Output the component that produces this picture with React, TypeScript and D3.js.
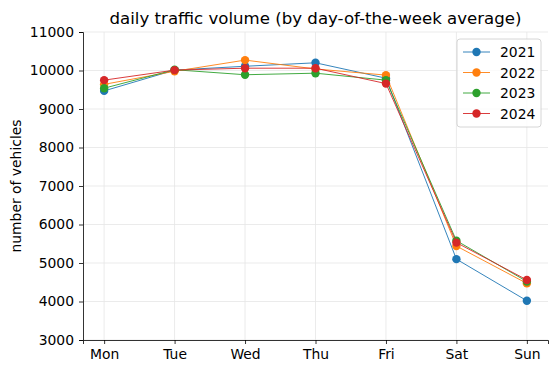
import * as d3 from 'd3';
import React, { useEffect, useRef } from 'react';

const days = ['Mon', 'Tue', 'Wed', 'Thu', 'Fri', 'Sat', 'Sun'];
const years = ['2021', '2022', '2023', '2024'];
const colors = ['#1f77b4', '#ff7f0e', '#2ca02c', '#d62728'];

const v2021 = [9470, 10010, 10110, 10200, 9800, 5100, 4020];
const v2022 = [9640, 9980, 10270, 10040, 9880, 5440, 4470];
const v2023 = [9540, 10020, 9890, 9930, 9750, 5580, 4520];
const v2024 = [9750, 10010, 10060, 10060, 9660, 5530, 4560];
const seriesValues = [v2021, v2022, v2023, v2024];

const yTicks = [3000, 4000, 5000, 6000, 7000, 8000, 9000, 10000, 11000];

const App: React.FC = () => {
    const svgRef = useRef<SVGSVGElement>(null);

    useEffect(() => {
        if (!svgRef.current) return;
        d3.select(svgRef.current).selectAll('*').remove();

        const width = 558;
        const height = 374;
        const margin = { left: 83, right: 10, top: 32, bottom: 34 };
        const font = 'DejaVu Sans, sans-serif';

        const svg = d3.select(svgRef.current)
            .attr('width', width)
            .attr('height', height)
            .style('font-family', font);

        svg.append('rect').attr('width', width).attr('height', height).attr('fill', '#fff');

        const x = d3.scaleLinear()
            .domain([-0.3, days.length - 1 + 0.3])
            .range([margin.left, width - margin.right]);
        const y = d3.scaleLinear()
            .domain([3000, 11000])
            .range([height - margin.bottom, margin.top]);

        // grid
        const grid = svg.append('g');
        days.forEach((_, i) => {
            grid.append('line')
                .attr('x1', x(i)).attr('x2', x(i))
                .attr('y1', y(3000)).attr('y2', y(11000))
                .attr('stroke', '#e6e6e6').attr('stroke-width', 0.8);
        });
        yTicks.forEach((t) => {
            grid.append('line')
                .attr('x1', x.range()[0]).attr('x2', x.range()[1])
                .attr('y1', y(t)).attr('y2', y(t))
                .attr('stroke', '#e6e6e6').attr('stroke-width', 0.8);
        });

        // axes
        const xAxis = d3.axisBottom(x)
            .tickValues(days.map((_, i) => i))
            .tickFormat((d) => days[d as number])
            .tickSizeOuter(0)
            .tickSize(4)
            .tickPadding(5);
        const gx = svg.append('g')
            .attr('transform', `translate(0,${y(3000)})`)
            .call(xAxis);
        const yAxis = d3.axisLeft(y)
            .tickValues(yTicks)
            .tickFormat(d3.format('d'))
            .tickSizeOuter(0)
            .tickSize(4)
            .tickPadding(5);
        const gy = svg.append('g')
            .attr('transform', `translate(${x.range()[0]},0)`)
            .call(yAxis);
        [gx, gy].forEach((g) => {
            g.selectAll('text').attr('font-size', 13.9).attr('font-family', font).attr('fill', '#000');
            g.selectAll('line').attr('stroke', '#000').attr('stroke-width', 0.8);
            g.select('.domain').attr('stroke', '#000').attr('stroke-width', 0.8);
        });

        // series
        const line = d3.line<number>()
            .x((_, i) => x(i))
            .y((d) => y(d));
        seriesValues.forEach((vals, si) => {
            const g = svg.append('g');
            g.append('path')
                .datum(vals)
                .attr('d', line)
                .attr('fill', 'none')
                .attr('stroke', colors[si])
                .attr('stroke-width', 0.9);
            g.selectAll('circle')
                .data(vals)
                .join('circle')
                .attr('cx', (_, i) => x(i))
                .attr('cy', (d) => y(d))
                .attr('r', 4.2)
                .attr('fill', colors[si]);
        });

        // title
        svg.append('text')
            .attr('x', (x.range()[0] + x.range()[1]) / 2)
            .attr('y', 24)
            .attr('text-anchor', 'middle')
            .attr('font-size', 16.6)
            .attr('fill', '#000')
            .text('daily traffic volume (by day-of-the-week average)');

        // y label
        svg.append('text')
            .attr('transform', `translate(21,${(y.range()[0] + y.range()[1]) / 2}) rotate(-90)`)
            .attr('text-anchor', 'middle')
            .attr('font-size', 13.9)
            .attr('fill', '#000')
            .text('number of vehicles');

        // legend
        const lx = 457;
        const ly = 39;
        const legend = svg.append('g');
        legend.append('rect')
            .attr('x', lx).attr('y', ly)
            .attr('width', 84).attr('height', 88)
            .attr('rx', 3)
            .attr('fill', '#fff').attr('fill-opacity', 0.8)
            .attr('stroke', '#ccc').attr('stroke-width', 0.8);
        years.forEach((yr, i) => {
            const cy = ly + 13 + i * 20.5;
            legend.append('line')
                .attr('x1', lx + 6).attr('x2', lx + 33)
                .attr('y1', cy).attr('y2', cy)
                .attr('stroke', colors[i]).attr('stroke-width', 0.9);
            legend.append('circle')
                .attr('cx', lx + 19.5).attr('cy', cy).attr('r', 4.2)
                .attr('fill', colors[i]);
            legend.append('text')
                .attr('x', lx + 43).attr('y', cy)
                .attr('dominant-baseline', 'central')
                .attr('font-size', 13.9)
                .attr('fill', '#000')
                .text(yr);
        });
    }, []);

    return <svg ref={svgRef} style={{ position: 'absolute', left: 0, top: 0 }}></svg>;
};

export default App;
